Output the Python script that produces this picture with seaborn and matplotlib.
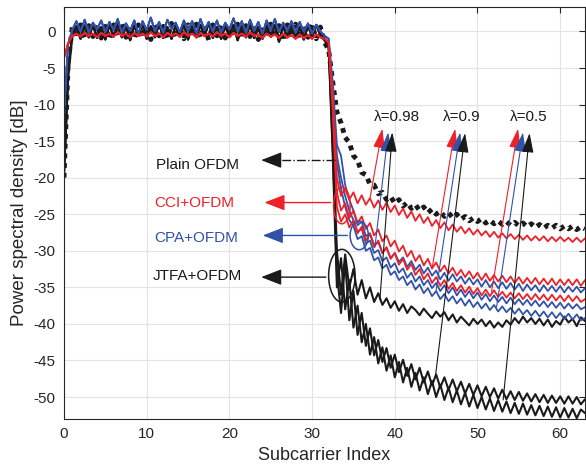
import numpy as np
import matplotlib
matplotlib.use("Agg")
import matplotlib.pyplot as plt
from matplotlib.patches import Ellipse
import seaborn as sns

# passband part: subcarrier 0 .. 31.5
pass_plain = [-20.0, -4.5, 0.6, -0.9, 0.9, -1.0, 0.8, -0.7, 1.0, -0.9,
              0.7, -1.1, 0.9, -0.6, 1.1, -0.8, 0.6, -1.0, 0.9, -0.7,
              0.8, -1.1, 1.0, -0.6, 0.7, -0.9, 1.1, -0.8, 0.6, -1.0,
              0.9, -0.7, 1.0, -0.9, 0.8, -1.2, 0.9, -0.6, 1.1, -0.9,
              0.7, -0.8, 1.0, -1.0, 0.8, -0.7, 0.9, -1.1, 0.7, -0.8,
              1.0, -0.9, 0.8, -1.3, 0.9, -0.7, 1.0, -1.0, 0.7, -0.8,
              0.9, -1.0, 0.6, -1.5]
pass_jtfa = [-19.5, -6.0, -0.4, 0.7, -1.0, 0.8, -0.8, 0.9, -0.9, 0.6,
             -1.1, 0.9, -0.7, 1.0, -0.8, 0.7, -1.2, 0.8, -0.6, 0.9,
             -1.0, 0.7, -0.8, 1.1, -0.9, 0.6, -1.0, 0.8, -0.7, 1.0,
             -1.1, 0.7, -0.8, 0.9, -0.6, 1.2, -0.9, 0.6, -1.0, 0.8,
             -0.7, 0.9, -1.2, 0.7, -0.8, 1.0, -0.9, 0.6, -1.0, 0.8,
             -0.7, 0.9, -1.4, 0.7, -0.8, 1.0, -0.9, 0.6, -1.1, 0.8,
             -0.7, 0.9, -0.5, -1.2]
pass_cpa = [-11.0, -1.8, 0.2, 1.4, 0.0, 1.6, -0.2, 1.2, 0.3, 1.5,
            -0.1, 1.3, 0.2, 1.7, -0.2, 1.1, 0.1, 1.5, -0.3, 1.4,
            0.2, 1.9, 0.0, 1.3, -0.2, 1.6, 0.3, 1.2, -0.1, 1.5,
            0.1, 1.4, -0.3, 1.7, 0.2, 1.3, 0.0, 1.5, -0.2, 1.2,
            0.3, 1.8, 0.0, 1.4, -0.2, 1.6, 0.1, 1.3, -0.3, 1.5,
            0.2, 1.7, -0.1, 1.2, 0.1, 1.4, -0.2, 1.3, 0.0, 1.1,
            -0.3, 0.9, 0.0, -0.6]
pass_cci = [-3.6, -1.6, -0.6, -0.3, -0.7, -0.2, -0.6, -0.3, -0.8, -0.2,
            -0.6, -0.3, -0.7, -0.1, -0.6, -0.3, -0.8, -0.2, -0.6, -0.3,
            -0.7, -0.1, -0.6, -0.3, -0.8, -0.2, -0.6, -0.3, -0.7, -0.1,
            -0.6, -0.3, -0.8, -0.2, -0.6, -0.3, -0.7, -0.1, -0.6, -0.3,
            -0.8, -0.2, -0.6, -0.3, -0.7, -0.1, -0.6, -0.4, -0.9, -0.3,
            -0.7, -0.4, -0.9, -0.3, -0.8, -0.5, -1.0, -0.4, -0.9, -0.5,
            -1.0, -0.4, -0.8, -1.0]

# out-of-band part: subcarrier 32 .. 63
plain_stop = [-2.5, -7.0, -11.0, -12.5, -14.5, -15.2, -17.0, -17.6, -19.3, -19.6,
              -20.9, -21.0, -22.2, -22.0, -23.0, -22.6, -23.5, -23.0, -23.9, -23.4,
              -24.2, -23.7, -24.5, -24.0, -24.8, -24.3, -25.0, -24.6, -25.3, -24.8,
              -25.5, -25.0, -25.7, -25.3, -25.9, -25.5, -26.0, -25.6, -26.2, -25.8,
              -26.3, -25.9, -26.4, -26.0, -26.5, -26.1, -26.6, -26.2, -26.7, -26.3,
              -26.8, -26.4, -26.9, -26.5, -26.9, -26.5, -27.0, -26.6, -27.0, -26.6,
              -27.1, -26.7, -27.0]
cci1_stop = [-1.5, -9.0, -20.0, -22.5, -21.5, -23.0, -22.0, -23.5, -22.4, -23.7,
             -22.8, -24.1, -23.1, -24.4, -23.4, -24.7, -23.8, -25.1, -24.2, -25.5,
             -24.6, -25.9, -25.0, -26.2, -25.4, -26.6, -25.8, -26.9, -26.1, -27.2,
             -26.4, -27.4, -26.7, -27.6, -26.9, -27.8, -27.1, -27.9, -27.3, -28.1,
             -27.4, -28.2, -27.6, -28.3, -27.7, -28.4, -27.8, -28.5, -27.9, -28.6,
             -28.0, -28.6, -28.0, -28.7, -28.1, -28.7, -28.1, -28.7, -28.2, -28.8,
             -28.2, -28.8, -28.3]
cci2_stop = [-1.5, -10.0, -22.0, -24.5, -23.5, -25.5, -24.5, -26.2, -25.3, -27.0,
             -26.2, -27.9, -27.1, -28.7, -27.9, -29.4, -28.6, -30.1, -29.3, -30.8,
             -30.0, -31.4, -30.6, -32.0, -31.1, -32.4, -31.6, -32.8, -32.0, -33.1,
             -32.3, -33.4, -32.6, -33.6, -32.8, -33.8, -33.0, -34.0, -33.1, -34.1,
             -33.3, -34.2, -33.4, -34.3, -33.5, -34.4, -33.6, -34.5, -33.7, -34.5,
             -33.7, -34.6, -33.8, -34.6, -33.8, -34.7, -33.9, -34.7, -33.9, -34.7,
             -33.9, -34.8, -34.0]
cci3_stop = [-1.5, -11.0, -24.0, -26.0, -25.0, -26.8, -25.8, -27.6, -26.7, -28.6,
             -27.7, -29.5, -28.6, -30.3, -29.5, -31.1, -30.3, -31.9, -31.1, -32.6,
             -31.8, -33.3, -32.5, -33.9, -33.1, -34.4, -33.6, -34.8, -34.0, -35.2,
             -34.4, -35.5, -34.7, -35.7, -34.9, -35.9, -35.1, -36.1, -35.3, -36.2,
             -35.4, -36.3, -35.6, -36.4, -35.7, -36.5, -35.8, -36.6, -35.9, -36.7,
             -35.9, -36.7, -36.0, -36.8, -36.0, -36.8, -36.1, -36.9, -36.1, -36.9,
             -36.2, -37.0, -36.6]
cpa1_stop = [-1.0, -7.0, -15.5, -17.0, -21.0, -23.0, -24.5, -26.5, -26.0, -28.0,
             -27.6, -29.2, -28.8, -30.3, -29.6, -31.0, -30.3, -31.5, -30.9, -32.2,
             -31.4, -32.6, -31.9, -33.1, -32.3, -33.4, -32.7, -33.9, -33.0, -34.1,
             -33.2, -34.2, -33.5, -34.5, -33.7, -34.6, -33.9, -34.9, -34.0, -35.0,
             -34.2, -35.1, -34.3, -35.2, -34.4, -35.3, -34.5, -35.5, -34.6, -35.4,
             -34.7, -35.6, -34.7, -35.5, -34.8, -35.6, -34.8, -35.7, -34.9, -35.6,
             -34.9, -35.7, -35.1]
cpa2_stop = [-1.0, -8.0, -17.0, -20.0, -22.5, -24.5, -25.8, -27.4, -27.0, -29.0,
             -28.6, -30.3, -29.9, -31.4, -30.9, -32.3, -31.7, -33.0, -32.4, -33.7,
             -33.0, -34.2, -33.5, -34.7, -34.0, -35.1, -34.4, -35.5, -34.7, -35.8,
             -35.0, -36.1, -35.3, -36.3, -35.5, -36.5, -35.7, -36.7, -35.9, -36.9,
             -36.1, -37.0, -36.3, -37.2, -36.4, -37.3, -36.6, -37.4, -36.7, -37.5,
             -36.8, -37.6, -36.9, -37.7, -37.0, -37.8, -37.1, -37.9, -37.2, -37.9,
             -37.3, -38.0, -37.7]
cpa3_stop = [-1.0, -9.0, -18.0, -21.5, -24.0, -25.8, -26.6, -28.4, -28.0, -30.0,
             -29.6, -31.3, -30.9, -32.4, -31.9, -33.3, -32.8, -34.0, -33.5, -34.7,
             -34.1, -35.3, -34.6, -35.8, -35.1, -36.2, -35.5, -36.6, -35.9, -36.9,
             -36.2, -37.2, -36.5, -37.5, -36.7, -37.7, -37.0, -37.9, -37.2, -38.1,
             -37.4, -38.3, -37.6, -38.4, -37.8, -38.6, -37.9, -38.7, -38.1, -38.9,
             -38.2, -39.0, -38.3, -39.1, -38.4, -39.2, -38.5, -39.3, -38.6, -39.4,
             -38.7, -39.5, -39.2]
jtfa1_stop = [-2.0, -14.0, -30.0, -36.0, -30.5, -35.0, -32.5, -36.0, -34.0, -36.5,
              -35.0, -37.0, -35.8, -37.4, -36.5, -37.8, -36.9, -38.2, -37.3, -38.5,
              -37.6, -38.1, -38.8, -37.9, -38.6, -39.2, -38.3, -39.0, -38.4, -39.5,
              -38.7, -39.8, -39.0, -39.6, -40.2, -39.3, -40.0, -39.4, -40.3, -39.6,
              -40.5, -39.8, -40.4, -39.5, -40.1, -39.2, -39.9, -39.0, -39.8, -39.2,
              -40.0, -39.3, -40.2, -39.4, -40.4, -39.6, -40.1, -39.0, -39.8, -39.3,
              -40.3, -39.1, -39.6]
jtfa2_stop = [-2.0, -16.0, -33.0, -38.5, -31.5, -39.5, -35.5, -41.5, -38.5, -43.0,
              -40.6, -44.3, -42.2, -45.2, -43.3, -46.0, -44.2, -46.6, -44.9, -47.1,
              -45.5, -47.6, -46.0, -48.0, -46.5, -48.4, -46.9, -48.7, -47.3, -49.0,
              -47.6, -49.2, -47.9, -49.5, -48.2, -49.7, -48.4, -49.9, -48.6, -50.0,
              -48.8, -50.2, -49.0, -50.3, -49.2, -50.4, -49.3, -50.5, -49.5, -50.6,
              -49.6, -50.7, -49.7, -50.8, -49.8, -50.8, -49.9, -50.9, -49.9, -50.9,
              -50.0, -51.0, -50.3]
jtfa3_stop = [-2.0, -17.0, -35.0, -31.0, -38.0, -34.0, -40.5, -37.5, -42.5, -40.0,
              -44.2, -41.8, -45.4, -43.2, -46.4, -44.3, -47.3, -45.2, -48.0, -46.0,
              -48.6, -46.7, -49.1, -47.3, -49.6, -47.8, -50.0, -48.3, -50.4, -48.7,
              -50.7, -49.1, -51.0, -49.4, -51.3, -49.7, -51.5, -50.0, -51.7, -50.2,
              -51.9, -50.4, -52.0, -50.6, -52.2, -50.8, -52.3, -50.9, -52.4, -51.1,
              -52.5, -51.2, -52.6, -51.3, -52.7, -51.4, -52.8, -51.5, -52.8, -51.6,
              -52.9, -51.7, -52.2]

scheme_labels = ["Plain OFDM", "CCI+OFDM", "CPA+OFDM", "JTFA+OFDM"]
lambda_labels = ["0.98", "0.9", "0.5"]

BLACK = "#1a1a1a"
RED = "#ee2028"
BLUE = "#3152a8"

sns.set_theme(style="whitegrid")
plt.rcParams['font.family'] = ['Liberation Sans', 'DejaVu Sans']
plt.rcParams['axes.unicode_minus'] = False

fig = plt.figure(figsize=(5.86, 4.72), dpi=100)
ax = fig.add_axes([0.1092, 0.1123, 0.8891, 0.8722])

curves = [
    (pass_plain, plain_stop, BLACK, (0, (1, 1)), 3.5),
    (pass_jtfa, jtfa1_stop, BLACK, "-", 1.5),
    (pass_jtfa, jtfa2_stop, BLACK, "-", 1.5),
    (pass_jtfa, jtfa3_stop, BLACK, "-", 1.5),
    (pass_cpa, cpa1_stop, BLUE, "-", 1.3),
    (pass_cpa, cpa2_stop, BLUE, "-", 1.3),
    (pass_cpa, cpa3_stop, BLUE, "-", 1.3),
    (pass_cci, cci1_stop, RED, "-", 1.3),
    (pass_cci, cci2_stop, RED, "-", 1.3),
    (pass_cci, cci3_stop, RED, "-", 1.3),
]
for pb, sb, col, ls, lw in curves:
    y = np.concatenate([pb, sb])
    x = 0.5 * np.arange(len(y))
    sns.lineplot(x=x, y=y, ax=ax, color=col, linestyle=ls, lw=lw,
                 estimator=None, sort=False)

ax.set_xlim(0, 63)
ax.set_ylim(-53, 3.3)
ax.set_xticks(range(0, 61, 10))
ax.set_yticks(range(-50, 1, 5))
ax.grid(True, color="#e3e3e3", lw=0.8)
for sp in ax.spines.values():
    sp.set_color("#262626")
    sp.set_linewidth(0.8)
ax.tick_params(direction="in", top=True, right=True, length=4, width=0.8,
               color="#262626", labelcolor="#262626", labelsize=11, pad=6)
ax.set_xlabel("Subcarrier Index", fontsize=13, color="#262626")
ax.set_ylabel("Power spectral density [dB]", fontsize=13.5, color="#262626")

# scheme labels with arrows pointing at the circled curves
head = "-|>,head_length=0.9,head_width=0.35"
ax.plot([24.5, 32.8], [-17.6, -17.6], color=BLACK, lw=1, ls="-.")
ax.annotate("", xy=(23.5, -17.6), xytext=(25.0, -17.6),
            arrowprops=dict(arrowstyle=head, color=BLACK, lw=1, mutation_scale=14))
ax.annotate("", xy=(23.9, -23.4), xytext=(32.6, -23.4),
            arrowprops=dict(arrowstyle=head, color=RED, lw=1, mutation_scale=14))
ax.annotate("", xy=(23.7, -27.9), xytext=(34.6, -27.9),
            arrowprops=dict(arrowstyle=head, color=BLUE, lw=1, mutation_scale=14))
ax.annotate("", xy=(23.5, -33.6), xytext=(32.0, -33.6),
            arrowprops=dict(arrowstyle=head, color=BLACK, lw=1, mutation_scale=14))

ax.text(16.1, -18.3, scheme_labels[0], ha="center", va="center", fontsize=11, color=BLACK)
ax.text(15.7, -23.5, scheme_labels[1], ha="center", va="center", fontsize=11, color=RED)
ax.text(16.0, -28.2, scheme_labels[2], ha="center", va="center", fontsize=11, color=BLUE)
ax.text(16.1, -33.4, scheme_labels[3], ha="center", va="center", fontsize=11, color=BLACK)

ax.add_patch(Ellipse((33.6, -23.8), 2.0, 5.0, fill=False, ec=RED, lw=1.1, zorder=5))
ax.add_patch(Ellipse((35.7, -27.9), 2.2, 3.9, fill=False, ec=BLUE, lw=1.1, zorder=5))
ax.add_patch(Ellipse((33.6, -33.4), 3.2, 7.2, fill=False, ec=BLACK, lw=1.1, zorder=5))

# lambda arrows: (tail on curve) -> (head under the label)
lam_arrows = [
    [((37.0, -22.8), (38.5, -13.3)), ((37.6, -29.5), (39.2, -13.8)), ((38.2, -36.7), (39.7, -13.8))],
    [((44.5, -32.5), (47.3, -13.3)), ((45.0, -35.4), (47.9, -13.8)), ((44.9, -47.3), (48.5, -13.9))],
    [((51.7, -35.6), (54.9, -13.3)), ((52.3, -37.7), (55.5, -13.8)), ((53.1, -50.4), (56.3, -13.9))],
]
lam_x = [40.3, 48.1, 56.2]
thin = "-|>,head_length=1.0,head_width=0.3"
for k, group in enumerate(lam_arrows):
    for (tail, tip), col in zip(group, [RED, BLUE, BLACK]):
        ax.annotate("", xy=tip, xytext=tail,
                    arrowprops=dict(arrowstyle=thin, color=col, lw=0.8,
                                    mutation_scale=12, shrinkA=0, shrinkB=0))
    ax.text(lam_x[k], -11.7, "λ=" + lambda_labels[k], ha="center",
            va="center", fontsize=11, color=BLACK)

fig.savefig("out.png", dpi=100)
